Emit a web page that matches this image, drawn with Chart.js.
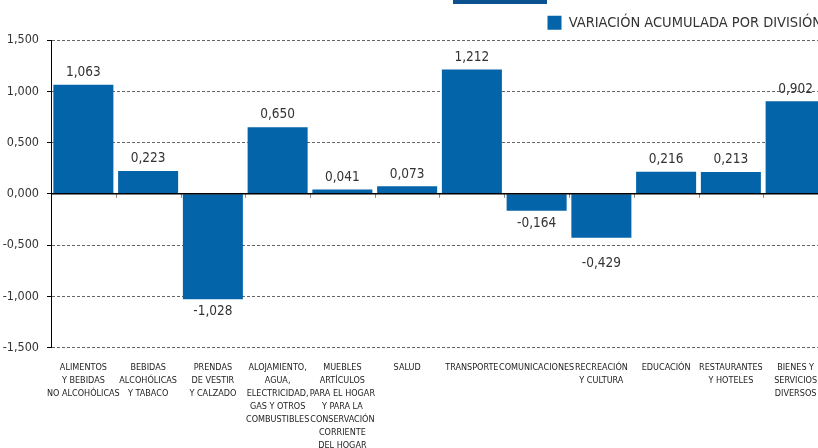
<!DOCTYPE html>
<html>
<head>
<meta charset="utf-8">
<script src="https://cdn.jsdelivr.net/npm/chart.js@4.4.1/dist/chart.umd.min.js"></script>
<style>
    html, body { margin: 0; padding: 0; background: #fff; overflow: hidden; }
    #wrap { position: relative; width: 829px; height: 457px; }
    #topbar { position: absolute; left: 453px; top: 0; width: 94px; height: 4px; background: #0d5290; }
</style>
</head>
<body>
<div id="wrap">
    <canvas id="divisionChart"></canvas>
    <div id="topbar"></div>
</div>
<script>
const categories = [
    ['ALIMENTOS', 'Y BEBIDAS', 'NO ALCOHÓLICAS'],
    ['BEBIDAS', 'ALCOHÓLICAS', 'Y TABACO'],
    ['PRENDAS', 'DE VESTIR', 'Y CALZADO'],
    ['ALOJAMIENTO,', 'AGUA,', 'ELECTRICIDAD,', 'GAS Y OTROS', 'COMBUSTIBLES'],
    ['MUEBLES', 'ARTÍCULOS', 'PARA EL HOGAR', 'Y PARA LA', 'CONSERVACIÓN', 'CORRIENTE', 'DEL HOGAR'],
    ['SALUD'],
    ['TRANSPORTE'],
    ['COMUNICACIONES'],
    ['RECREACIÓN', 'Y CULTURA'],
    ['EDUCACIÓN'],
    ['RESTAURANTES', 'Y HOTELES'],
    ['BIENES Y', 'SERVICIOS', 'DIVERSOS']
];
const seriesLabel = 'VARIACIÓN ACUMULADA POR DIVISIÓN';
const variacion = [1.063, 0.223, -1.028, 0.650, 0.041, 0.073, 1.212, -0.164, -0.429, 0.216, 0.213, 0.902];
const yMin = -1.5;
const yMax = 1.5;
const yStep = 0.5;

const FONT = "'Liberation Sans Narrow', 'Arial Narrow', 'DejaVu Sans Condensed', sans-serif";

function fmt(v) {
    return v.toFixed(3).replace('.', ',');
}

// zero line, small category ticks and the value labels
const valueLabels = {
    id: 'valueLabels',
    afterDatasetsDraw(chart) {
        const ctx = chart.ctx;
        const x = chart.scales.x;
        const y = chart.scales.y;
        const area = chart.chartArea;
        const zero = y.getPixelForValue(0);
        ctx.save();

        // little marks between categories, just under the zero line
        const half = (x.getPixelForValue(1) - x.getPixelForValue(0)) / 2;
        ctx.strokeStyle = '#888';
        ctx.lineWidth = 1;
        for (let i = 1; i < categories.length; i++) {
            const bx = Math.round(x.getPixelForValue(i) - half) + 0.5;
            ctx.beginPath();
            ctx.moveTo(bx, zero);
            ctx.lineTo(bx, zero + 4);
            ctx.stroke();
        }

        ctx.strokeStyle = '#000';
        ctx.lineWidth = 1.5;
        ctx.beginPath();
        ctx.moveTo(area.left, zero);
        ctx.lineTo(area.right, zero);
        ctx.stroke();

        const gridPx = y.ticks.map(t => y.getPixelForValue(t.value));
        ctx.font = '13.5px ' + FONT;
        ctx.fillStyle = '#333';
        ctx.textAlign = 'center';
        ctx.textBaseline = 'top';
        chart.getDatasetMeta(0).data.forEach((bar, i) => {
            const v = variacion[i];
            if (v >= 0) {
                ctx.fillText(fmt(v), bar.x, bar.y - 19);
            } else {
                // keep the label off a dashed grid line
                let top = bar.y + 6;
                gridPx.forEach(g => {
                    if (g > top - 3 && g < top + 14) top = g + 12;
                });
                ctx.fillText(fmt(v), bar.x, top);
            }
        });
        ctx.restore();
    }
};

const ctx = document.getElementById('divisionChart').getContext('2d');
const chart = new Chart(ctx, {
    type: 'bar',
    data: {
        labels: categories,
        datasets: [{
            label: seriesLabel,
            data: variacion,
            backgroundColor: '#0364aa',
            borderWidth: 0,
            categoryPercentage: 1,
            barPercentage: 0.927
        }]
    },
    options: {
        responsive: true,
        maintainAspectRatio: false,
        animation: false,
        layout: {
            padding: { left: 0, right: 1, top: 9.5, bottom: 0 }
        },
        plugins: {
            legend: {
                position: 'top',
                align: 'end',
                labels: {
                    boxWidth: 14,
                    boxHeight: 14,
                    padding: 6,
                    color: '#333',
                    font: { family: FONT, size: 14.5 }
                }
            },
            tooltip: { enabled: false }
        },
        scales: {
            x: {
                grid: { display: false },
                border: { display: false },
                ticks: {
                    autoSkip: false,
                    maxRotation: 0,
                    padding: 5,
                    color: '#222',
                    font: { family: FONT, size: 9, lineHeight: 1.45 }
                }
            },
            y: {
                min: yMin,
                max: yMax,
                afterFit(scale) {
                    scale.width = 51;
                },
                grid: {
                    color: '#666',
                    lineWidth: 1,
                    tickColor: '#000',
                    tickLength: 4
                },
                border: {
                    display: true,
                    color: '#000',
                    width: 1,
                    dash: [3, 2]
                },
                ticks: {
                    stepSize: yStep,
                    padding: 8,
                    color: '#333',
                    font: { family: FONT, size: 12.5 },
                    callback: (v) => fmt(v)
                }
            }
        }
    },
    plugins: [valueLabels]
});
</script>
</body>
</html>
